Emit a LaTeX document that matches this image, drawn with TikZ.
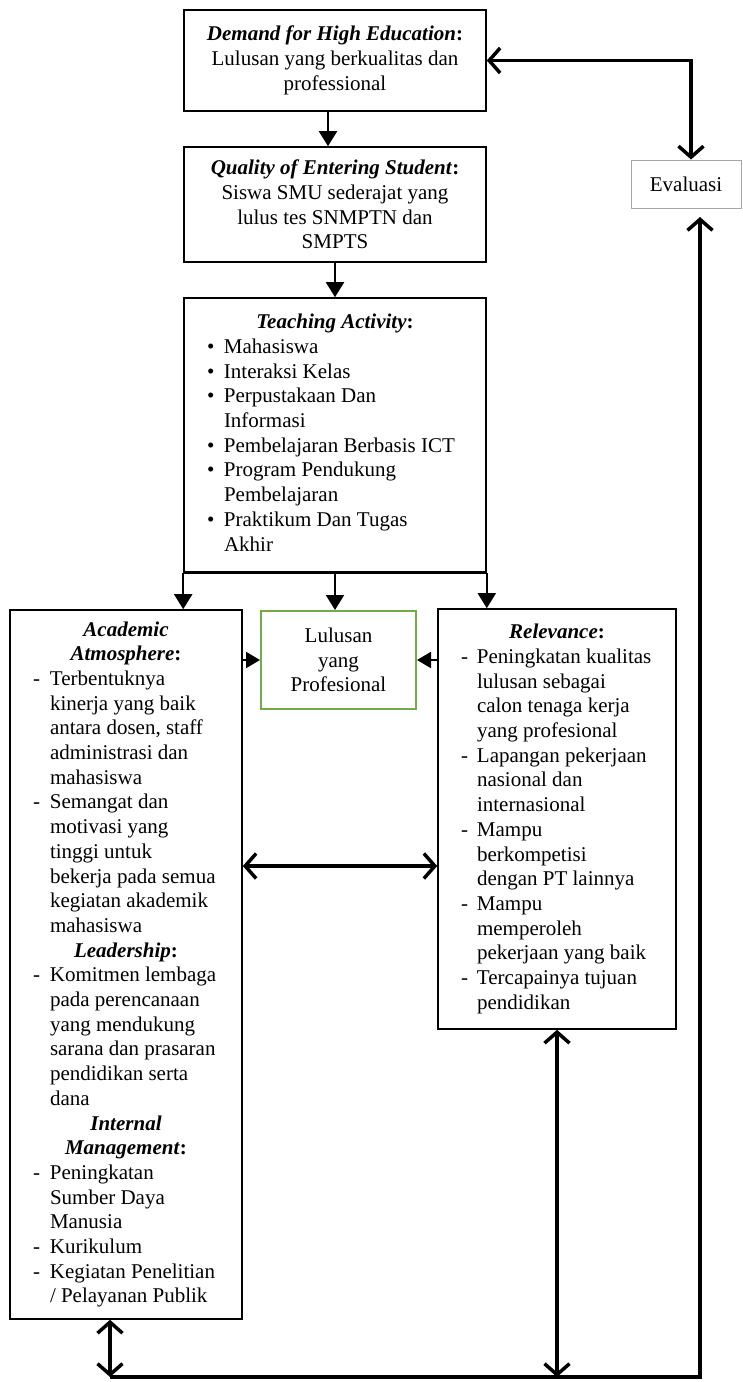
\documentclass[tikz,border=0pt]{standalone}
\usepackage{fontspec}
\setmainfont{Liberation Serif}
\usetikzlibrary{arrows.meta,calc}
\definecolor{boxgreen}{HTML}{70AD47}
\definecolor{evalgray}{HTML}{A6A6A6}
\newcommand{\hd}[1]{\textbf{\textit{#1}:}}
\newcommand{\hdn}[1]{\textbf{\textit{#1}}}
\newcommand{\bul}{\makebox[17pt][l]{\textbullet}}
\newcommand{\dsA}{\makebox[17pt][l]{-}}
\newcommand{\dsB}{\makebox[16pt][l]{-}}
\begin{document}
\begin{tikzpicture}[x=1pt,y=-1pt,
  txt/.style={font=\fontsize{21}{24.7}\selectfont},
  box/.style={txt, draw=black, line width=1.6pt, inner sep=0pt, align=center},
  thinarr/.style={line width=2pt, -{Triangle[length=15pt,width=18pt]}},
  sidearr/.style={line width=2pt, -{Triangle[length=14pt,width=16pt]}},
  bigone/.style={line width=3.5pt, -{Straight Barb[length=11pt,width=25pt]}},
  bigdbl/.style={line width=3.5pt, {Straight Barb[length=11pt,width=25pt]}-{Straight Barb[length=11pt,width=25pt]}}]
\useasboundingbox (0,0) rectangle (742,1382);

\node[box, minimum width=302pt, minimum height=101pt] (dem) at (335,60.5)
  {\hd{Demand for High Education}\\Lulusan yang berkualitas dan\\professional};

\node[box, minimum width=302pt, minimum height=115pt] (qual) at (335,204.5)
  {\hd{Quality of Entering Student}\\Siswa SMU sederajat yang\\lulus tes SNMPTN dan\\SMPTS};

\node[box, minimum width=302pt, minimum height=274pt] (teach) at (335,435)
  {\begin{tabular}{@{}l@{}l@{}}
   \multicolumn{2}{@{}c@{}}{\makebox[256pt]{\hd{Teaching Activity}}}\\
   \bul & Mahasiswa\\
   \bul & Interaksi Kelas\\
   \bul & Perpustakaan Dan\\
        & Informasi\\
   \bul & Pembelajaran Berbasis ICT\\
   \bul & Program Pendukung\\
        & Pembelajaran\\
   \bul & Praktikum Dan Tugas\\
        & Akhir
   \end{tabular}};

\node[box, minimum width=232pt, minimum height=709pt] (acad) at (126,964.5)
  {\begin{tabular}{@{}l@{}l@{}}
   \multicolumn{2}{@{}c@{}}{\makebox[186pt]{\hdn{Academic}}}\\
   \multicolumn{2}{@{}c@{}}{\makebox[186pt]{\hd{Atmosphere}}}\\
   \dsA & Terbentuknya\\
        & kinerja yang baik\\
        & antara dosen, staff\\
        & administrasi dan\\
        & mahasiswa\\
   \dsA & Semangat dan\\
        & motivasi yang\\
        & tinggi untuk\\
        & bekerja pada semua\\
        & kegiatan akademik\\
        & mahasiswa\\
   \multicolumn{2}{@{}c@{}}{\makebox[186pt]{\hd{Leadership}}}\\
   \dsA & Komitmen lembaga\\
        & pada perencanaan\\
        & yang mendukung\\
        & sarana dan prasaran\\
        & pendidikan serta\\
        & dana\\
   \multicolumn{2}{@{}c@{}}{\makebox[186pt]{\hdn{Internal}}}\\
   \multicolumn{2}{@{}c@{}}{\makebox[186pt]{\hd{Management}}}\\
   \dsA & Peningkatan\\
        & Sumber Daya\\
        & Manusia\\
   \dsA & Kurikulum\\
   \dsA & Kegiatan Penelitian\\
        & / Pelayanan Publik
   \end{tabular}};

\node[box, draw=boxgreen, line width=2pt, minimum width=155pt, minimum height=98pt] (lul) at (338.5,660)
  {Lulusan\\yang\\Profesional};

\node[box, minimum width=238pt, minimum height=420pt] (rel) at (557,819)
  {\begin{tabular}{@{}l@{}l@{}}
   \multicolumn{2}{@{}c@{}}{\makebox[192pt]{\hd{Relevance}}}\\
   \dsB & Peningkatan kualitas\\
        & lulusan sebagai\\
        & calon tenaga kerja\\
        & yang profesional\\
   \dsB & Lapangan pekerjaan\\
        & nasional dan\\
        & internasional\\
   \dsB & Mampu\\
        & berkompetisi\\
        & dengan PT lainnya\\
   \dsB & Mampu\\
        & memperoleh\\
        & pekerjaan yang baik\\
   \dsB & Tercapainya tujuan\\
        & pendidikan
   \end{tabular}};

\node[txt, draw=evalgray, line width=1pt, inner sep=0pt, minimum width=110pt, minimum height=48pt] (eval) at (686,184) {Evaluasi};

% connectors
\coordinate (d1) at ($(dem.south)+(-7,0)$);
\draw[thinarr] (d1) -- (d1 |- qual.north);
\draw[thinarr] (qual.south) -- (teach.north);
\draw[line width=2pt] (teach.south west) -- (teach.south east);
\draw[thinarr] (teach.south west) -- (teach.south west |- acad.north);
\draw[thinarr] (teach.south) -- (teach.south |- lul.north);
\draw[thinarr] (teach.south east) -- (teach.south east |- rel.north);

\draw[sidearr] (acad.east |- lul.west) -- (lul.west);
\draw[sidearr] (rel.west |- lul.east) -- (lul.east);

\coordinate (mid) at (340,866);
\draw[bigdbl] (acad.east |- mid) -- (rel.west |- mid);

\coordinate (evtop) at ($(eval.north)+(5,0)$);
\draw[bigdbl] (dem.east) -| (evtop);

\coordinate (bl) at (110,1377);
\coordinate (br) at (700,1377);
\coordinate (evbot) at (700,217);
\draw[bigone] (bl) -- (br) -- (evbot);
\draw[bigdbl] (acad.south -| bl) -- (bl);
\draw[bigdbl] (rel.south) -- (rel.south |- bl);
\end{tikzpicture}
\end{document}
